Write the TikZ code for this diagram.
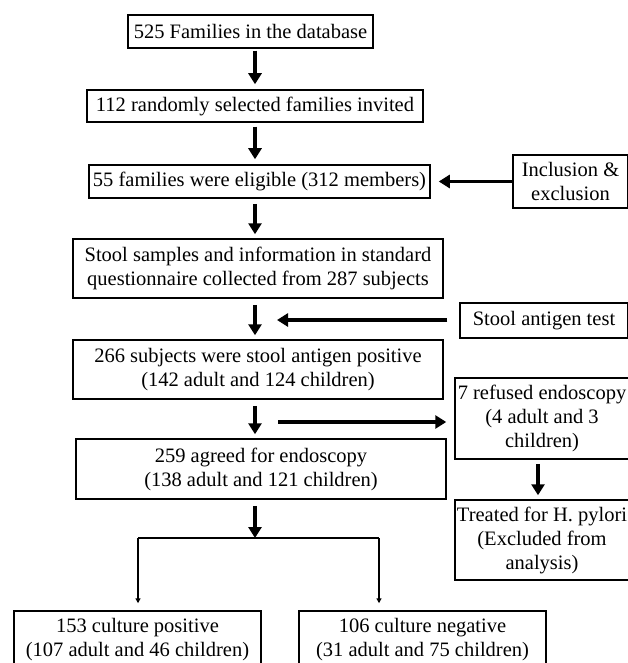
\documentclass[tikz,border=0pt]{standalone}
\usepackage{fontspec}
\setmainfont{Liberation Serif}
\usetikzlibrary{arrows.meta}
\begin{document}
\begin{tikzpicture}[x=1pt,y=-1pt,
  box/.style={draw, line width=1.5pt, align=center, inner sep=0pt,
    font=\fontsize{20.5}{24}\selectfont},
  bigarrow/.style={line width=3.5pt, -{Triangle[width=13pt,length=11pt]}},
  thinarrow/.style={line width=1.6pt, -{Triangle[width=5pt,length=5pt]}},
  thinline/.style={line width=1.6pt}]
\useasboundingbox (0,0) rectangle (627,663);
\node[box, minimum width=245pt, minimum height=33pt] (b1) at (250.5,31.5) {525 Families in the database};
\node[box, minimum width=336pt, minimum height=32pt] (b2) at (255,106) {112 randomly selected families invited};
\node[box, minimum width=341pt, minimum height=33pt] (b3) at (259.5,181.5) {55 families were eligible (312 members)};
\node[box, minimum width=370pt, minimum height=59pt] (b4) at (258,268.5) {Stool samples and information in standard\\questionnaire collected from 287 subjects};
\node[box, minimum width=370pt, minimum height=59pt] (b5) at (258,369.5) {266 subjects were stool antigen positive\\(142 adult and 124 children)};
\node[box, minimum width=370pt, minimum height=60pt] (b6) at (261,469) {259 agreed for endoscopy\\(138 adult and 121 children)};
\node[box, minimum width=115pt, minimum height=53pt] (inc) at (570.5,181.5) {Inclusion \&\\exclusion};
\node[box, minimum width=168pt, minimum height=35pt] (sat) at (544,320.5) {Stool antigen test};
\node[box, minimum width=174pt, minimum height=81pt] (ref) at (542,418.5) {7 refused endoscopy\\(4 adult and 3\\children)};
\node[box, minimum width=174pt, minimum height=80pt] (trt) at (542,540) {Treated for H. pylori\\(Excluded from\\analysis)};
\node[box, minimum width=247pt, minimum height=58pt] (cp) at (137.5,640) {153 culture positive\\(107 adult and 46 children)};
\node[box, minimum width=247pt, minimum height=58pt] (cn) at (422.5,640) {106 culture negative\\(31 adult and 75 children)};
% vertical main arrows
\draw[bigarrow, shorten <=2pt, shorten >=5pt] (b1.south -| b2.north) -- (b2.north);
\draw[bigarrow, shorten <=4pt, shorten >=5pt] (b2.south) -- (b2.south |- b3.north);
\draw[bigarrow, shorten <=5pt, shorten >=4pt] (b2.south |- b3.south) -- (b2.south |- b4.north);
\draw[bigarrow, shorten <=6pt, shorten >=4pt] (b2.south |- b4.south) -- (b2.south |- b5.north);
\draw[bigarrow, shorten <=6pt, shorten >=4pt] (b2.south |- b5.south) -- (b2.south |- b6.north);
\coordinate (br) at (255,538);
\coordinate (brl) at (138,538);
\coordinate (brr) at (379,538);
\draw[bigarrow, shorten <=6pt] (b2.south |- b6.south) -- (br);
\draw[thinline] (brl) -- (brr);
\draw[thinarrow, shorten >=7pt] (brl) -- (brl |- cp.north);
\draw[thinarrow, shorten >=7pt] (brr) -- (brr |- cn.north);
% side arrows
\draw[bigarrow, shorten >=8pt] (inc.west) -- (inc.west -| b3.east);
\coordinate (satend) at (277,320);
\draw[bigarrow, shorten <=12pt] (sat.west |- satend) -- (satend);
\coordinate (refstart) at (278,422);
\draw[bigarrow, shorten >=8pt] (refstart) -- (refstart -| ref.west);
\draw[bigarrow, shorten <=4pt, shorten >=4pt] ([xshift=-4pt]ref.south) -- ([xshift=-4pt]ref.south |- trt.north);
\end{tikzpicture}
\end{document}
